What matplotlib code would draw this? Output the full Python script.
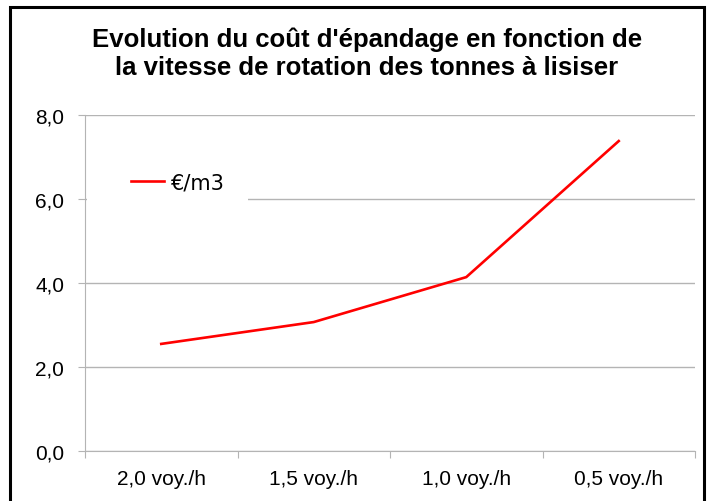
import matplotlib.pyplot as plt
from matplotlib.patches import Rectangle
from matplotlib.ticker import FuncFormatter

categories = ['2,0 voy./h', '1,5 voy./h', '1,0 voy./h', '0,5 voy./h']
cost = [2.55, 3.07, 4.14, 7.38]
series_name = '€/m3'
title = "Evolution du coût d'épandage en fonction de\nla vitesse de rotation des tonnes à lisiser"

fig = plt.figure(figsize=(7.12, 5.02), dpi=100)
W, H = 712, 502

# outer chart border (bottom edge falls outside the image)
fig.patches.append(Rectangle((10 / W, -0.05), 694 / W, (H - 8) / H + 0.05,
                             transform=fig.transFigure, fill=False,
                             edgecolor='black', linewidth=2.2))

ax = fig.add_axes([85 / W, (H - 452) / H, 610 / W, 336 / H])
x = [i + 0.5 for i in range(len(categories))]
ax.plot(x, cost, color='#ff0000', linewidth=1.9, label=series_name)

ax.set_xlim(0, len(categories))
ax.set_ylim(0, 8)
ax.set_yticks([0, 2, 4, 6, 8])
ax.yaxis.set_major_formatter(FuncFormatter(lambda v, p: f'{v:.1f}'.replace('.', ',')))
ax.grid(axis='y', color='#b4b4b4', linewidth=1)
ax.set_axisbelow(True)

ax.set_xticks(range(len(categories) + 1))
ax.set_xticklabels([])
ax.set_xticks(x, minor=True)
ax.set_xticklabels(categories, minor=True, family='Liberation Sans', fontsize=15)
ax.tick_params(axis='x', which='minor', length=0, pad=13)
ax.tick_params(axis='x', which='major', length=5, color='#b4b4b4', direction='out')
ax.tick_params(axis='y', length=5, color='#b4b4b4', pad=10, labelsize=15)
for lbl in ax.get_yticklabels():
    lbl.set_family('Liberation Sans')

for s in ['top', 'right']:
    ax.spines[s].set_visible(False)
ax.spines['left'].set_color('#b4b4b4')
ax.spines['bottom'].set_color('#b4b4b4')

# white legend area hiding part of the 6,0 gridline
ax.add_patch(Rectangle((0.003, 0.72), 0.264, 0.15, transform=ax.transAxes,
                       facecolor='white', edgecolor='none', zorder=1.5))
ax.legend(loc='center left', bbox_to_anchor=(0.076, 0.80), frameon=False,
          prop={'family': 'DejaVu Sans', 'size': 15}, handlelength=1.55,
          handletextpad=0.35, borderpad=0.0, borderaxespad=0.0)

fig.text(367 / W, (H - 54) / H, title, ha='center', va='center',
         fontsize=18.5, fontweight='bold', family='Liberation Sans', linespacing=1.2)

fig.savefig('out.png', dpi=100)
